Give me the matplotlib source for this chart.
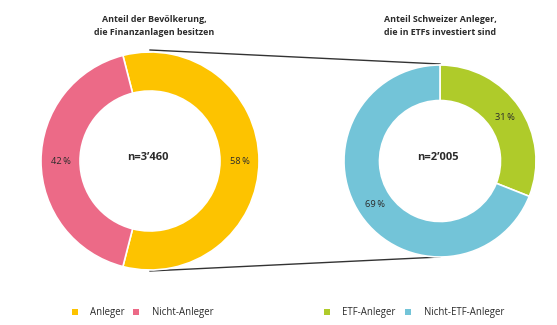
import matplotlib
matplotlib.use("Agg")
import matplotlib.pyplot as plt
import numpy as np

# ---- data ----
left_title = "Anteil der Bevölkerung,\ndie Finanzanlagen besitzen"
right_title = "Anteil Schweizer Anleger,\ndie in ETFs investiert sind"
left_labels = ["Anleger", "Nicht-Anleger"]
left_values = [58, 42]
left_n = "n=3\u2019460"
right_labels = ["ETF-Anleger", "Nicht-ETF-Anleger"]
right_values = [31, 69]
right_n = "n=2\u2019005"

left_colors = ["#FDC300", "#EC6A87"]
right_colors = ["#AFCB2A", "#73C4D8"]

plt.rcParams['font.family'] = ['Open Sans', 'DejaVu Sans']
W, H = 557, 325
fig = plt.figure(figsize=(W / 100, H / 100), dpi=100)
ax = fig.add_axes([0, 0, 1, 1])

text_col = "#2b2b2b"

def donut(values, colors, cx, cy, r, w, startangle, ntext):
    cy = H - cy
    ax.pie(values, colors=colors, center=(cx, cy), radius=r,
           startangle=startangle, counterclock=False,
           wedgeprops=dict(width=w, edgecolor="white", linewidth=1.2))
    total = sum(values)
    a = startangle
    rm = r - w / 2
    for v in values:
        span = 360 * v / total
        mid = np.deg2rad(a - span / 2)
        ax.text(cx + rm * np.cos(mid), cy + rm * np.sin(mid), f"{v}\u2009%",
                ha="center", va="center", fontsize=6.7, color=text_col)
        a -= span
    ax.text(cx - 2, cy + 4, ntext, ha="center", va="center", fontsize=8,
            fontweight="bold", color=text_col)

# connecting lines (behind)
ax.plot([150, 440], [H - 50, H - 64], color="#333333", lw=1.0, zorder=0)
ax.plot([150, 440], [H - 271, H - 257], color="#333333", lw=1.0, zorder=0)

left_start = 360 * left_values[0] / sum(left_values) / 2
donut(left_values, left_colors, 150, 161, 109, 39, left_start, left_n)
donut(right_values, right_colors, 440, 161, 96, 35.5, 90, right_n)

ax.text(154, H - 26, left_title, ha="center", va="center", fontsize=6.4,
        fontweight="bold", color=text_col, linespacing=1.45)
ax.text(440, H - 26, right_title, ha="center", va="center", fontsize=6.4,
        fontweight="bold", color=text_col, linespacing=1.45)

# legend
leg_y = H - 312
leg_items = [(75, 90, left_colors[0], left_labels[0]),
             (136, 152, left_colors[1], left_labels[1]),
             (327, 342, right_colors[0], right_labels[0]),
             (408, 424, right_colors[1], right_labels[1])]
for mx, tx, c, lab in leg_items:
    ax.scatter([mx], [leg_y], marker="s", s=22, color=c, linewidths=0)
    ax.text(tx, leg_y, lab, ha="left", va="center", fontsize=6.9, color=text_col)

ax.set_xlim(0, W)
ax.set_ylim(0, H)
ax.set_aspect("auto")
ax.axis("off")
fig.savefig("out.png", dpi=100, facecolor="white")
